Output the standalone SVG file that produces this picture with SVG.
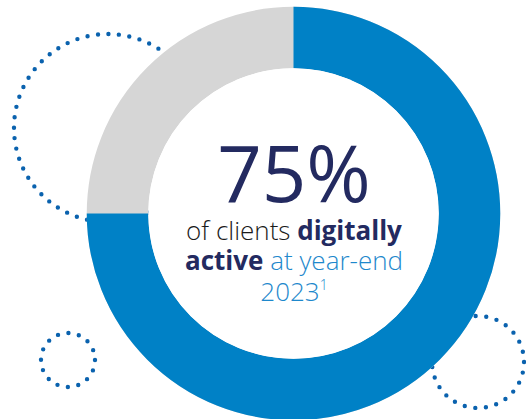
<svg xmlns="http://www.w3.org/2000/svg" width="526" height="419" viewBox="0 0 526 419">
<style>
.dots{fill:none;stroke:#0A62AE;stroke-width:4.4;stroke-linecap:round}
.t{font-family:"Open Sans","Liberation Sans",sans-serif;text-anchor:middle}
.l{font-weight:300}
.b{font-weight:700;fill:#232A60}
.k{fill:#1A1A1A}
.bl{fill:#1E88CC}
</style>
<rect width="526" height="419" fill="#ffffff"/>
<g id="decor">
<circle id="dots-large" class="dots" cx="108" cy="128" r="94" stroke-dasharray="0 10.54"/>
<circle id="dots-small" class="dots" cx="68" cy="360" r="27" stroke-dasharray="0 10.6"/>
<circle id="dots-right" class="dots" cx="478" cy="362" r="46" stroke-dasharray="0 10.7"/>
</g>
<g id="donut">
<circle cx="293.5" cy="213.5" r="176" fill="none" stroke="#D6D6D6" stroke-width="61.5"/>
<path d="M293.5 37.5 A176 176 0 1 1 117.5 213.5" fill="none" stroke="#0081C6" stroke-width="61.5"/>
<circle cx="293.5" cy="213.5" r="145.2" fill="#ffffff"/>
</g>
<g id="label">
<text class="t" x="294" y="202" font-size="78" font-weight="500" fill="#232A60">75%</text>
<text class="t" x="294" y="240" font-size="26"><tspan class="l k">of clients </tspan><tspan class="b">digitally</tspan></text>
<text class="t" x="294" y="270" font-size="26"><tspan class="b">active</tspan><tspan class="l bl"> at year-end</tspan></text>
<text class="t l bl" x="294" y="301" font-size="26">2023<tspan font-size="14" dy="-11">1</tspan></text>
</g>
</svg>
